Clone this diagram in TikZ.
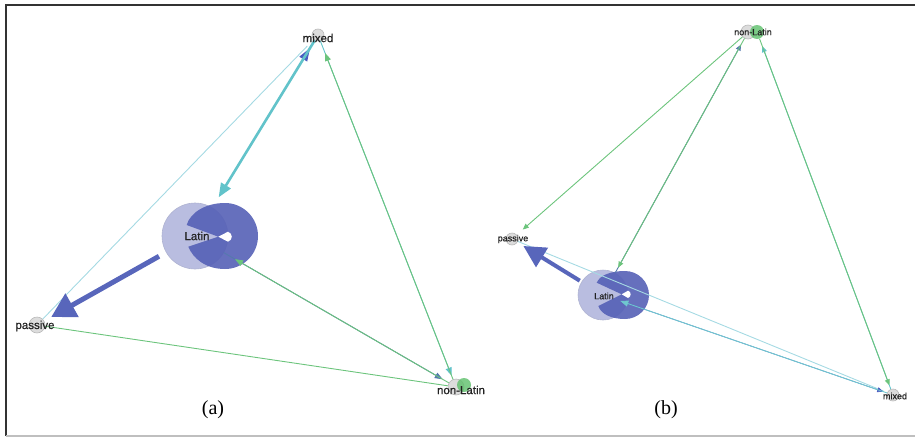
\documentclass[tikz,border=0pt]{standalone}
\usepackage{fontspec}
\setmainfont{Liberation Serif}
\newfontfamily\lblfont{Liberation Sans}[FakeBold=0.6]
\usetikzlibrary{arrows.meta,calc}

\definecolor{latinLight}{HTML}{B9BDE0}
\definecolor{latinDark}{HTML}{5560B6}
\definecolor{thickBlue}{HTML}{5866BB}
\definecolor{edgeCyan}{HTML}{62C3CA}
\definecolor{edgeBlue}{HTML}{4A5BC0}
\definecolor{edgeGreen}{HTML}{6CC47C}
\definecolor{paleCyan}{HTML}{A5DAE3}
\definecolor{nodeGrey}{HTML}{DCDCDC}
\definecolor{nodeGreen}{HTML}{5CBF6A}
\definecolor{lblGrey}{HTML}{222222}

\begin{document}
\begin{tikzpicture}[x=1pt,y=-1pt,
  dot/.style={circle,inner sep=0pt,fill=nodeGrey,draw=gray!55,line width=0.6pt},
  gdot/.style={circle,inner sep=0pt,fill=nodeGreen,fill opacity=0.8,draw=none},
  lightnode/.style={circle,inner sep=0pt,fill=latinLight,draw=latinLight!85!gray,line width=0.6pt},
  lblA/.style={inner sep=0pt,text=lblGrey,font=\lblfont\fontsize{11.5}{12}\selectfont},
  lblB/.style={inner sep=0pt,text=lblGrey,font=\lblfont\fontsize{9}{10}\selectfont},
  caption/.style={inner sep=0pt,font=\fontsize{20}{24}\selectfont},
  thin/.style={line width=0.9pt},
  headS/.style={-{Triangle[length=8pt,width=6pt]}},
  headXS/.style={-{Triangle[length=6pt,width=5pt]}},
]
\useasboundingbox (0,0) rectangle (917,439);

% frame
\draw[black!80,line width=1.5pt] (6,436) -- (6,5) -- (915,5);
\draw[gray!50,line width=1.2pt] (6,436) -- (915,436);

% ---------------- panel (a): nodes ----------------
\node[dot,minimum size=12pt] (mxA) at (318,35) {};
\node[dot,minimum size=16pt] (paA) at (37,325) {};
\node[dot,minimum size=16pt] (nlA) at (456,387) {};
\node[gdot,minimum size=14pt] (nlAg) at (464,385) {};
\node[lightnode,minimum size=66pt] (laA) at (195,236) {};
% self loop of Latin
\fill[latinDark,opacity=0.9] (218.3,236.7) -- (186.7,225)
  .. controls (190,213) and (205,203) .. (225,203)
  arc[start angle=90,end angle=-90,radius=33pt]
  .. controls (205,269) and (193,258) .. (188.3,246.7) -- cycle;
\fill[white] (218.3,236.7) -- (228,231.7) .. controls (233,233.5) and (233,240) .. (228,241.7) -- cycle;

% ---------------- panel (a): edges ----------------
\draw[paleCyan,thin,shorten >=9pt] (paA) -- (mxA);
\draw[edgeGreen,thin] (paA) -- (nlA);
\draw[edgeCyan,thin,headS,shorten >=4pt] (mxA) -- (nlA);
\draw[edgeGreen,thin,headS,shorten >=13pt] (nlA) -- (mxA);
\draw[edgeBlue!70!edgeGreen,thin,headS,shorten >=7pt] (laA) -- (nlA);
\draw[edgeGreen,thin,headS,shorten >=13pt] (nlA) -- (laA);
\draw[edgeBlue,line width=1pt,-{Triangle[length=13pt,width=9pt]},shorten <=14pt,shorten >=9pt] (laA) -- (mxA);
\draw[edgeCyan,line width=2.6pt,-{Triangle[length=14pt,width=11pt]},shorten >=12pt] (mxA) -- (laA);
\draw[thickBlue,line width=5pt,-{Triangle[length=24pt,width=26pt]},shorten <=8pt,shorten >=8pt] (laA) -- (paA);

% ---------------- panel (a): labels ----------------
\node[lblA] (mxAt) at (318,38) {mixed};
\node[lblA] (paAt) at (35,326) {passive};
\node[lblA] (nlAt) at (461,390) {non-Latin};
\node[lblA] (laAt) at (197,236) {Latin};
\node[caption] (capA) at (213,410) {(a)};

% ---------------- panel (b): nodes ----------------
\node[dot,minimum size=12pt] (paB) at (512,239) {};
\node[dot,minimum size=14pt] (nlB) at (748,32) {};
\node[gdot,minimum size=14pt] (nlBg) at (757,32) {};
\node[dot,minimum size=12pt] (mxB) at (893,395) {};
\node[lightnode,minimum size=50pt] (laB) at (603,295) {};
% self loop of Latin
\fill[latinDark,opacity=0.9] (621.7,294.3) -- (596.7,282.7)
  .. controls (600,275) and (611,271) .. (625,271)
  arc[start angle=90,end angle=-90,radius=24pt]
  .. controls (611,319) and (601,314) .. (598.3,306) -- cycle;
\fill[white] (621.7,294.3) -- (628,290.7) .. controls (631.5,291.5) and (631.5,297) .. (628,298) -- cycle;

% ---------------- panel (b): edges ----------------
\draw[paleCyan,thin,shorten >=4pt] (paB) -- (mxB);
\draw[edgeGreen,thin,headXS,shorten >=8pt] (nlB) -- (paB);
\draw[edgeBlue!70!edgeGreen,thin,headXS,shorten >=7pt] (laB) -- (nlB);
\draw[edgeGreen,thin,headXS,shorten >=6pt] (nlB) -- (laB);
\draw[edgeCyan,thin,headXS,shorten >=8pt] (mxB) -- (nlBg);
\draw[edgeGreen,thin,headXS,shorten >=4pt] (nlBg) -- (mxB);
\draw[edgeBlue,line width=0.6pt,headXS,shorten >=4pt] (laB) -- (mxB);
\draw[edgeCyan!80!paleCyan,thin,-{Triangle[length=8pt,width=6pt]},shorten >=-7pt] (mxB) -- (laB);
\draw[thickBlue,line width=4pt,-{Triangle[length=22pt,width=22pt]},shorten <=2pt,shorten >=7pt] (laB) -- (paB);

% ---------------- panel (b): labels ----------------
\node[lblB] (paBt) at (513,239) {passive};
\node[lblB] (nlBt) at (753,32) {non-Latin};
\node[lblB] (mxBt) at (895,396) {mixed};
\node[lblB] (laBt) at (604,296) {Latin};
\node[caption] (capB) at (666,410) {(b)};
\end{tikzpicture}
\end{document}
